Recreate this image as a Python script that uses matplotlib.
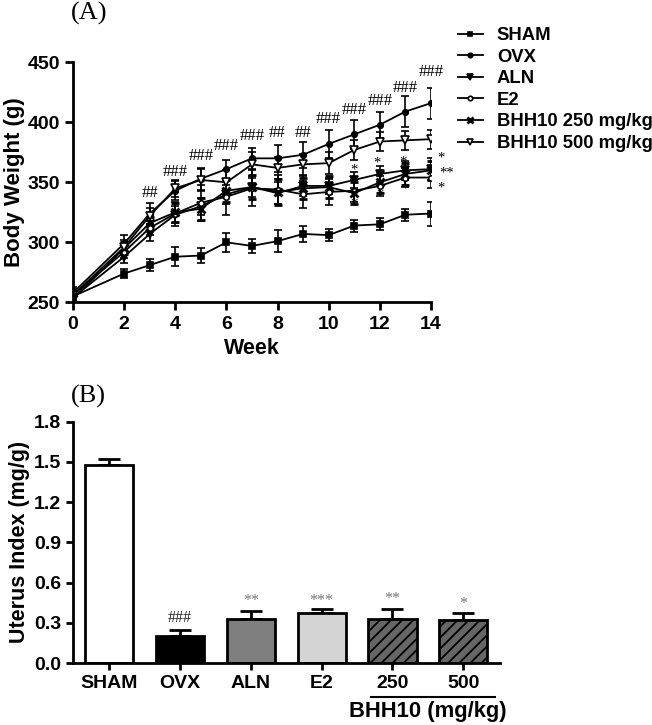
import numpy as np
import matplotlib
matplotlib.use("Agg")
import matplotlib.pyplot as plt
from matplotlib.lines import Line2D

plt.rcParams['font.family'] = ['Liberation Sans', 'DejaVu Sans']
plt.rcParams['font.weight'] = 'bold'
plt.rcParams['hatch.linewidth'] = 1.3

# ---- panel A data: body weight (g) ----
weeks = [0, 2, 3, 4, 5, 6, 7, 8, 9, 10, 11, 12, 13, 14]
groups = ["SHAM", "OVX", "ALN", "E2", "BHH10 250 mg/kg", "BHH10 500 mg/kg"]
sham = [255, 274, 281, 288, 289, 300, 297, 301, 307, 306, 314, 315, 323, 324]
ovx = [258, 299, 324, 343, 353, 361, 370, 370, 373, 382, 390, 398, 409, 416]
aln = [254, 288, 307, 323, 330, 340, 346, 341, 347, 347, 352, 357, 360, 361]
e2 = [256, 292, 312, 324, 333, 338, 345, 344, 340, 342, 343, 347, 354, 354]
bhh250 = [253, 295, 316, 325, 328, 343, 346, 342, 345, 346, 341, 350, 357, 360]
bhh500 = [256, 296, 322, 345, 352, 350, 365, 362, 365, 366, 377, 384, 385, 386]
sham_err = [4, 4, 5, 8, 6, 8, 6, 9, 7, 5, 5, 5, 5, 10]
ovx_err = [5, 7, 9, 8, 9, 8, 9, 11, 11, 12, 12, 11, 13, 13]
aln_err = [4, 5, 6, 7, 7, 8, 8, 9, 8, 7, 7, 7, 8, 9]
e2_err = [4, 5, 6, 10, 15, 15, 15, 12, 11, 11, 9, 8, 8, 9]
bhh250_err = [4, 5, 5, 8, 9, 9, 10, 11, 9, 9, 9, 9, 9, 8]
bhh500_err = [5, 6, 7, 7, 9, 10, 10, 9, 9, 9, 8, 8, 8, 8]

# significance vs SHAM (#) above OVX
hash_weeks = [3, 4, 5, 6, 7, 8, 9, 10, 11, 12, 13, 14]
hash_y = [341, 359, 372, 380, 389, 391, 391, 403, 410, 418, 429, 442]
hash_txt = ["##", "###", "###", "###", "###", "##", "##", "###", "###", "###", "###", "###"]
# significance vs OVX (*)
star_x = [11, 11, 11.9, 12, 12.9, 13, 14.4, 14.62, 14.4]
star_y = [360, 332, 366, 339, 367, 344, 370.5, 358, 345.5]
star_txt = ["*", "*", "*", "*", "*", "*", "*", "**", "*"]

# ---- panel B data: uterus index (mg/g) ----
bar_labels = ["SHAM", "OVX", "ALN", "E2", "250", "500"]
uterus = [1.48, 0.20, 0.33, 0.37, 0.33, 0.32]
uterus_err = [0.04, 0.045, 0.06, 0.03, 0.07, 0.05]
bar_sig = ["", "###", "**", "***", "**", "*"]
sig_y = [0, 0.335, 0.46, 0.46, 0.48, 0.44]

fig = plt.figure(figsize=(6.52, 7.25), dpi=100)

# ================= panel A =================
axA = fig.add_axes([0.112, 0.583, 0.549, 0.331])
styles = [
    dict(marker='s', mfc='black'),
    dict(marker='o', mfc='black'),
    dict(marker='v', mfc='black'),
    dict(marker='o', mfc='white'),
    dict(marker='x', mfc='black'),
    dict(marker='v', mfc='white'),
]
sizes = [4, 4, 5.5, 4, 6, 5.5]
series = [sham, ovx, aln, e2, bhh250, bhh500]
errs = [sham_err, ovx_err, aln_err, e2_err, bhh250_err, bhh500_err]
handles = []
for name, vals, err, st, ms in zip(groups, series, errs, styles, sizes):
    mew = 2 if st['marker'] == 'x' else 1.2
    axA.errorbar(weeks, vals, yerr=err, color='black', mec='black', lw=1.3,
                 ms=ms, mew=mew, elinewidth=1.2, capsize=3, capthick=1.2, **st)
    handles.append(Line2D([], [], color='black', mec='black', lw=1.3,
                          ms=ms * 0.8, mew=mew, label=name, **st))

for w, y, t in zip(hash_weeks, hash_y, hash_txt):
    axA.text(w, y, t, ha='center', va='center', fontsize=12,
             family='Liberation Serif', fontweight='normal')
for x, y, t in zip(star_x, star_y, star_txt):
    axA.text(x, y, t, ha='center', va='center', fontsize=10.5,
             family='Liberation Serif', fontweight='normal', clip_on=False)

axA.set_xlim(0, 14)
axA.set_ylim(250, 450)
axA.set_xticks(range(0, 15, 2))
axA.set_yticks(range(250, 451, 50))
axA.set_xlabel("Week", fontsize=15.5, fontweight='bold', labelpad=4)
axA.set_ylabel("Body Weight (g)", fontsize=16, fontweight='bold', labelpad=2)
axA.spines['top'].set_visible(False)
axA.spines['right'].set_visible(False)
for s in ['left', 'bottom']:
    axA.spines[s].set_linewidth(2)
axA.tick_params(width=2, length=6, labelsize=14)
fig.text(71 / 652, 1 - 13 / 725, "(A)", fontsize=19, va='center', ha='left',
         family='Liberation Serif', fontweight='normal')

fig.legend(handles=handles, loc='upper left',
           bbox_to_anchor=(458 / 652, 1 - 27 / 725), frameon=False,
           fontsize=13.3, handlelength=1.35, handletextpad=0.75,
           labelspacing=0.25, borderpad=0, borderaxespad=0)

# ================= panel B =================
axB = fig.add_axes([0.112, 0.0855, 0.655, 0.333])
x = np.arange(len(bar_labels))
faces = ['white', 'black', '#7f7f7f', '#d4d4d4', '#666666', '#666666']
hatches = [None, None, None, None, '///', '///']
for i in x:
    axB.bar(i, uterus[i], width=0.68, color=faces[i], edgecolor='black',
            linewidth=2, hatch=hatches[i], zorder=2)
    axB.errorbar(i, uterus[i], yerr=[[0], [uterus_err[i]]], color='black',
                 elinewidth=2, capsize=8, capthick=2, zorder=1)
for i, (t, y) in enumerate(zip(bar_sig, sig_y)):
    if t:
        c = '#222222' if t.startswith('#') else '#777777'
        axB.text(i, y, t, ha='center', va='center', fontsize=11.5, color=c,
                 family='Liberation Serif', fontweight='normal')

axB.set_xlim(-0.51, 5.52)
axB.set_ylim(0, 1.8)
axB.set_xticks(x)
axB.set_xticklabels(bar_labels)
axB.set_yticks(np.arange(0, 1.81, 0.3))
axB.set_yticklabels([f"{v:.1f}" for v in np.arange(0, 1.81, 0.3)])
axB.set_ylabel("Uterus Index (mg/g)", fontsize=15.5, fontweight='bold', labelpad=3)
axB.spines['top'].set_visible(False)
axB.spines['right'].set_visible(False)
for s in ['left', 'bottom']:
    axB.spines[s].set_linewidth(2)
axB.tick_params(width=2, length=5, labelsize=14)
fig.text(71 / 652, 1 - 396 / 725, "(B)", fontsize=19, va='center', ha='left',
         family='Liberation Serif', fontweight='normal')

# BHH10 group bracket under the two dose labels
axB.plot([3.7, 5.45], [-0.255, -0.255], color='black', lw=1.5, clip_on=False)
axB.text(4.5, -0.365, "BHH10 (mg/kg)", ha='center', va='center',
         fontsize=15.8, fontweight='bold')

fig.savefig("out.png", dpi=100)
